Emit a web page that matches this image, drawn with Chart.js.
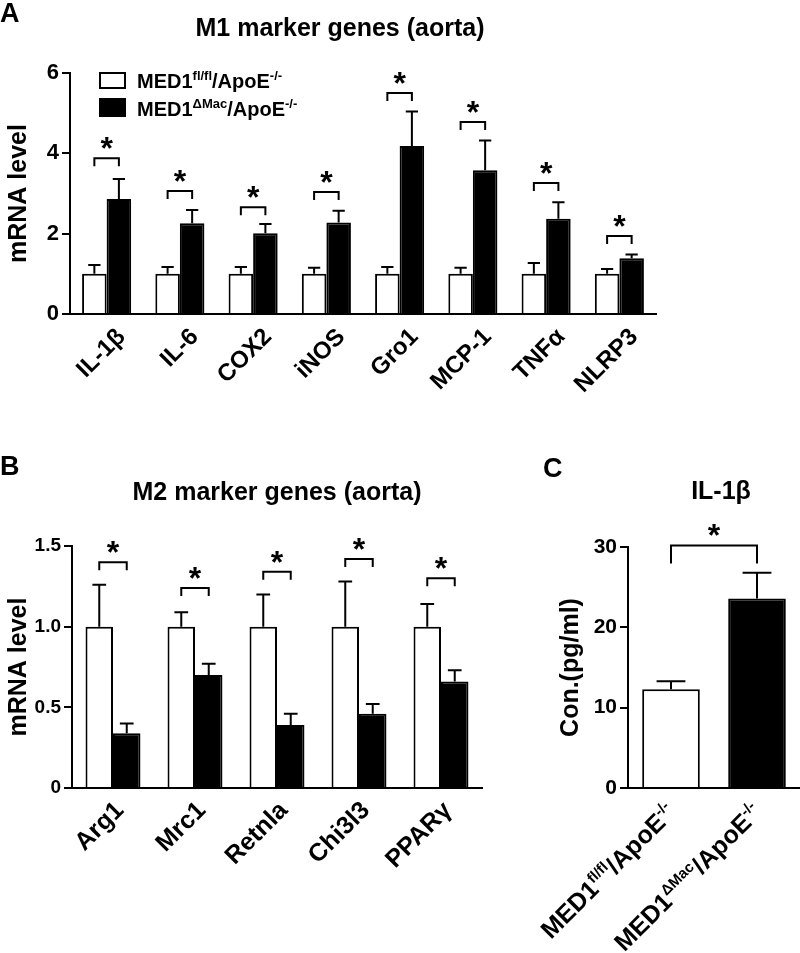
<!DOCTYPE html>
<html>
<head>
<meta charset="utf-8">
<script src="https://cdn.jsdelivr.net/npm/chart.js@4.4.0/dist/chart.umd.min.js"></script>
<style>
  body { margin: 0; background: #fff; width: 800px; height: 953px; position: relative; overflow: hidden; }
  canvas { position: absolute; }
</style>
</head>
<body>
<canvas id="chartA" width="800" height="440" style="left:0;top:0"></canvas>
<canvas id="chartB" width="520" height="513" style="left:0;top:440px"></canvas>
<canvas id="chartC" width="280" height="513" style="left:520px;top:440px"></canvas>
<script>
// Panel A - M1 marker genes
const m1Genes = ['IL-1β', 'IL-6', 'COX2', 'iNOS', 'Gro1', 'MCP-1', 'TNFα', 'NLRP3'];
const m1Flox = [1, 1, 1, 1, 1, 1, 1, 1];
const m1FloxErr = [0.22, 0.17, 0.17, 0.15, 0.17, 0.15, 0.27, 0.12];
const m1Ko = [2.86, 2.26, 2.01, 2.28, 4.18, 3.58, 2.37, 1.39];
const m1KoErr = [0.50, 0.33, 0.23, 0.29, 0.86, 0.74, 0.41, 0.09];
const m1Sig = [3.88, 3.06, 2.66, 3.04, 5.5, 4.78, 3.26, 1.94];

// Panel B - M2 marker genes
const m2Genes = ['Arg1', 'Mrc1', 'Retnla', 'Chi3l3', 'PPARγ'];
const m2Flox = [1, 1, 1, 1, 1];
const m2FloxErr = [0.26, 0.09, 0.20, 0.28, 0.14];
const m2Ko = [0.34, 0.70, 0.39, 0.46, 0.66];
const m2KoErr = [0.06, 0.07, 0.07, 0.06, 0.07];
const m2Sig = [1.40, 1.24, 1.34, 1.42, 1.30];

// Panel C - IL-1β concentration
const il1bGroups = ['MED1fl/fl/ApoE-/-', 'MED1ΔMac/ApoE-/-'];
const il1bValues = [12.3, 23.6];
const il1bErr = [1.0, 3.2];
const il1bSig = 30.2;

const FONT = "'Liberation Sans', Arial, Helvetica, sans-serif";

// rich text pieces: [text, isSuperscript]
const floxLabel = [['MED1', false], ['fl/fl', true], ['/ApoE', false], ['-/-', true]];
const koLabel = [['MED1', false], ['ΔMac', true], ['/ApoE', false], ['-/-', true]];

function richWidth(ctx, parts, size, supSize) {
    let w = 0;
    parts.forEach(([t, sup]) => {
        ctx.font = `bold ${sup ? supSize : size}px ${FONT}`;
        w += ctx.measureText(t).width;
    });
    return w;
}

function drawRich(ctx, parts, x, y, size, supSize, raise) {
    let cx = x;
    ctx.textAlign = 'left';
    ctx.textBaseline = 'alphabetic';
    parts.forEach(([t, sup]) => {
        ctx.font = `bold ${sup ? supSize : size}px ${FONT}`;
        ctx.fillText(t, cx, sup ? y - raise : y);
        cx += ctx.measureText(t).width;
    });
}

// error bars, significance brackets, titles and custom legend
const extrasPlugin = {
    id: 'extras',
    afterDatasetsDraw(chart, args, opts) {
        const ctx = chart.ctx;
        const y = chart.scales.y;
        ctx.save();
        ctx.strokeStyle = '#000';
        ctx.fillStyle = '#000';
        ctx.lineWidth = 2;
        ctx.lineCap = 'butt';

        // error bars (upper whisker only)
        (opts.errors || []).forEach((errs, di) => {
            const meta = chart.getDatasetMeta(di);
            meta.data.forEach((bar, i) => {
                const v = chart.data.datasets[di].data[i];
                const top = y.getPixelForValue(v + errs[i]);
                const half = bar.width * 0.25;
                ctx.beginPath();
                ctx.moveTo(bar.x, bar.y);
                ctx.lineTo(bar.x, top);
                ctx.moveTo(bar.x - half, top);
                ctx.lineTo(bar.x + half, top);
                ctx.stroke();
            });
        });

        // brackets with stars
        (opts.brackets || []).forEach(b => {
            const x1 = chart.getDatasetMeta(b.a[0]).data[b.a[1]].x;
            const x2 = chart.getDatasetMeta(b.b[0]).data[b.b[1]].x;
            const by = y.getPixelForValue(b.value);
            ctx.beginPath();
            ctx.moveTo(x1, by + b.leg);
            ctx.lineTo(x1, by);
            ctx.lineTo(x2, by);
            ctx.lineTo(x2, by + b.leg);
            ctx.stroke();
            ctx.font = `bold 32px ${FONT}`;
            ctx.textAlign = 'center';
            ctx.textBaseline = 'alphabetic';
            ctx.fillText('*', (x1 + x2) / 2, by + 1);
        });
        ctx.restore();
    },
    afterDraw(chart, args, opts) {
        const ctx = chart.ctx;
        ctx.save();
        ctx.fillStyle = '#000';
        if (opts.letter) {
            ctx.font = `bold 27px ${FONT}`;
            ctx.textAlign = 'left';
            ctx.textBaseline = 'alphabetic';
            ctx.fillText(opts.letter.text, opts.letter.x, opts.letter.y);
        }
        if (opts.title) {
            ctx.font = `bold 25px ${FONT}`;
            ctx.textAlign = 'center';
            ctx.textBaseline = 'alphabetic';
            ctx.fillText(opts.title.text, opts.title.x, opts.title.y);
        }
        if (opts.legend) {
            const L = opts.legend;
            ctx.lineWidth = 2;
            ctx.strokeStyle = '#000';
            ctx.fillStyle = '#fff';
            ctx.fillRect(L.x, L.y, 27, 17);
            ctx.strokeRect(L.x + 1, L.y + 1, 25, 15);
            ctx.fillStyle = '#000';
            ctx.fillRect(L.x, L.y + 26, 27, 19);
            drawRich(ctx, floxLabel, L.x + 38, L.y + 16, 20, 13, 8);
            drawRich(ctx, koLabel, L.x + 38, L.y + 44, 20, 13, 8);
        }
        if (opts.richTicks) {
            const xs = chart.scales.x;
            const R = opts.richTicks;
            opts.richTicks.labels.forEach((parts, i) => {
                const px = xs.getPixelForTick(i);
                const w = richWidth(ctx, parts, R.size, R.supSize);
                ctx.save();
                ctx.translate(px + R.dx, xs.top + R.dy);
                ctx.rotate(-Math.PI / 4);
                drawRich(ctx, parts, -w, 0, R.size, R.supSize, R.raise);
                ctx.restore();
            });
        }
        ctx.restore();
    }
};

function yAxis(min, max, step, size, title, width, titlePad, fmt) {
    return {
        min: min, max: max,
        grid: { drawOnChartArea: false, drawTicks: true, tickLength: 8, color: '#000', lineWidth: 2 },
        border: { display: true, color: '#000', width: 2 },
        ticks: {
            stepSize: step, color: '#000', padding: 3,
            font: { family: FONT, size: size, weight: 'bold' },
            callback: fmt || (v => v)
        },
        title: {
            display: true, text: title, color: '#000',
            font: { family: FONT, size: 25, weight: 'bold' },
            padding: { top: titlePad, bottom: 0 }
        },
        afterFit: s => { s.width = width; }
    };
}

function xAxis(size, height, pad, offset, showTicks) {
    return {
        grid: { display: false, drawTicks: false },
        border: { display: true, color: '#000', width: 2 },
        ticks: {
            display: showTicks, color: '#000', autoSkip: false,
            minRotation: 45, maxRotation: 45, padding: pad, labelOffset: offset,
            font: { family: FONT, size: size, weight: 'bold' }
        },
        afterFit: s => { s.height = height; }
    };
}

const common = {
    responsive: false,
    animation: false,
    devicePixelRatio: 1,
    plugins: { legend: { display: false }, tooltip: { enabled: false }, title: { display: false } }
};

function barSets(flox, ko) {
    return [
        { label: 'MED1fl/fl/ApoE-/-', data: flox, backgroundColor: '#fff', borderColor: '#000', borderWidth: 2, categoryPercentage: 0.67, barPercentage: 1 },
        { label: 'MED1ΔMac/ApoE-/-', data: ko, backgroundColor: '#000', borderColor: '#000', borderWidth: 2, categoryPercentage: 0.67, barPercentage: 1 }
    ];
}

// Panel A
new Chart(document.getElementById('chartA'), {
    type: 'bar',
    data: { labels: m1Genes, datasets: barSets(m1Flox, m1Ko) },
    options: {
        ...common,
        layout: { padding: { top: 73, right: 144, left: 0, bottom: 0 } },
        scales: {
            x: xAxis(24, 126, 9, 15, true),
            y: yAxis(0, 6, 2, 22, 'mRNA level', 70, 4)
        },
        plugins: {
            ...common.plugins,
            extras: {
                errors: [m1FloxErr, m1KoErr],
                brackets: m1Sig.map((v, i) => ({ a: [0, i], b: [1, i], value: v, leg: 8 })),
                letter: { text: 'A', x: 0, y: 22 },
                title: { text: 'M1 marker genes (aorta)', x: 340, y: 36 },
                legend: { x: 99, y: 72 }
            }
        }
    },
    plugins: [extrasPlugin]
});

// Panel B
new Chart(document.getElementById('chartB'), {
    type: 'bar',
    data: { labels: m2Genes, datasets: barSets(m2Flox, m2Ko) },
    options: {
        ...common,
        layout: { padding: { top: 106, right: 38, left: 0, bottom: 0 } },
        scales: {
            x: xAxis(25, 165, 8, 7, true),
            y: yAxis(0, 1.5, 0.5, 19, 'mRNA level', 72, 4, v => (v === 0 ? '0' : v.toFixed(1)))
        },
        plugins: {
            ...common.plugins,
            extras: {
                errors: [m2FloxErr, m2KoErr],
                brackets: m2Sig.map((v, i) => ({ a: [0, i], b: [1, i], value: v, leg: 8 })),
                letter: { text: 'B', x: 0, y: 35 },
                title: { text: 'M2 marker genes (aorta)', x: 277, y: 60 }
            }
        }
    },
    plugins: [extrasPlugin]
});

// Panel C
new Chart(document.getElementById('chartC'), {
    type: 'bar',
    data: {
        labels: il1bGroups,
        datasets: [{
            label: 'IL-1β', data: il1bValues,
            backgroundColor: ['#fff', '#000'], borderColor: '#000', borderWidth: 2,
            categoryPercentage: 1, barPercentage: 0.67
        }]
    },
    options: {
        ...common,
        layout: { padding: { top: 107, right: 0, left: 0, bottom: 0 } },
        scales: {
            x: xAxis(24, 165, 6, 0, false),
            y: yAxis(0, 30, 10, 21, 'Con.(pg/ml)', 108, 36)
        },
        plugins: {
            ...common.plugins,
            extras: {
                errors: [il1bErr],
                brackets: [{ a: [0, 0], b: [0, 1], value: il1bSig, leg: 18 }],
                letter: { text: 'C', x: 23, y: 37 },
                title: { text: 'IL-1β', x: 201, y: 59 },
                richTicks: { labels: [floxLabel, koLabel], size: 25, supSize: 15, raise: 10, dx: 6, dy: 26 }
            }
        }
    },
    plugins: [extrasPlugin]
});
</script>
</body>
</html>
